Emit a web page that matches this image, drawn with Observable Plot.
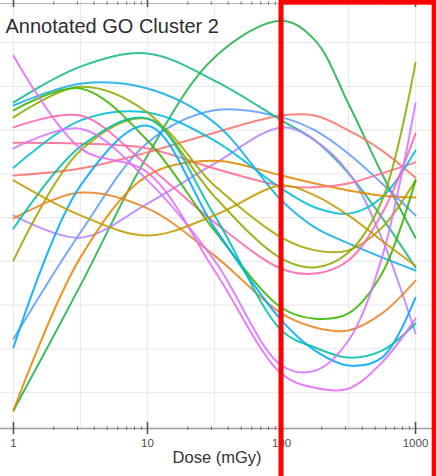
<!DOCTYPE html>
<html><head><meta charset="utf-8">
<script src="https://cdn.jsdelivr.net/npm/d3@7"></script>
<script src="https://cdn.jsdelivr.net/npm/@observablehq/plot@0.6"></script>
<style>html,body{margin:0;padding:0;background:#fff}#chart svg{display:block}</style>
</head><body><div id="chart"></div>
<script>
// Dose sampling points (mGy) where each fitted curve was read
const doses = [1, 3.16, 10, 31.6, 100, 178, 316, 562, 1000];

// Relative expression of each term (arbitrary units)
const term01 = [-4.1, 24.5, 54.2, 76.6, 85.0, 80.5, 66.0, 50.0, 35.4];
const term02 = [49.6, 51.2, 54.9, 59.4, 63.3, 63.3, 59.9, 55.3, 49.1];
const term03 = [12.3, 36.6, 57.1, 64.5, 62.9, 59.9, 54.6, 47.8, 40.5];
const term04 = [66.3, 74.5, 77.5, 71.3, 62.2, 57.6, 50.1, 40.0, 28.6];
const term05 = [40.5, 35.4, 43.2, 52.3, 60.6, 57.6, 50.3, 35.2, 13.5];
const term06 = [-4.1, 30.9, 49.6, 53.0, 49.6, 47.8, 46.2, 45.0, 44.6];
const term07 = [57.1, 56.9, 55.8, 51.2, 47.3, 46.9, 47.8, 50.1, 52.6];
const term08 = [51.4, 62.2, 64.0, 57.6, 46.6, 42.3, 40.9, 44.6, 55.3];
const term09 = [65.6, 70.6, 69.5, 61.7, 43.9, 37.7, 34.1, 30.9, 27.9];
const term10 = [30.2, 55.3, 62.6, 47.3, 35.4, 32.5, 32.5, 37.7, 48.5];
const term11 = [62.9, 69.9, 64.0, 44.8, 30.6, 28.6, 32.0, 43.9, 75.4];
const term12 = [60.6, 63.3, 51.9, 38.9, 28.3, 27.2, 30.2, 40.9, 59.2];
const term13 = [64.5, 69.5, 57.6, 37.0, 19.4, 16.9, 18.1, 27.2, 48.5];
const term14 = [39.8, 45.7, 42.1, 31.3, 18.1, 14.9, 14.2, 18.1, 25.6];
const term15 = [10.3, 47.3, 61.0, 37.7, 16.5, 9.6, 6.2, 8.0, 21.7];
const term16 = [37.5, 56.2, 62.6, 40.5, 14.2, 10.3, 8.0, 9.6, 15.8];
const term17 = [55.8, 60.3, 48.5, 30.2, 6.2, 5.0, 11.9, 30.9, 66.1];
const term18 = [77.0, 55.8, 50.3, 27.9, 4.3, 1.1, 0.9, 6.9, 16.9];
const term19 = [48.5, 40.5, 35.9, 40.5, 47.3, 45.0, 40.5, 34.7, 29.0];

const seriesNames = ["T01","T02","T03","T04","T05","T06","T07","T08","T09","T10",
                     "T11","T12","T13","T14","T15","T16","T17","T18","T19"];
const seriesValues = [term01,term02,term03,term04,term05,term06,term07,term08,term09,term10,
                      term11,term12,term13,term14,term15,term16,term17,term18,term19];
const seriesColors = ["#22B24C","#F8766D","#619CFF","#14B98A","#B983FF","#E58700","#FF6C91",
                      "#00BCD8","#16AEE8","#A3A500","#8EAB00","#FF64B0","#39B600","#E88526",
                      "#00A9FF","#00C1A9","#D575FE","#E76BF3","#C49A00"];

// Axis / grid / annotation values
const majorTicks = [1, 10, 100, 1000];
const minorTicks = [2,3,4,5,6,7,8,9,20,30,40,50,60,70,80,90,200,300,400,500,600,700,800,900];
const xGrid = [1, 3.162, 10, 31.62, 100, 316.2, 1000];
const yGrid = [0, 10, 20, 30, 40, 50, 60, 70, 80];
const xDomain = [0.8, 1362];
const yDomain = [-8.2, 89.6];
const topAxis = 88.9;
const highlight = {from: 100, to: 1390, top: 89.1, bottom: -30};
const titleText = "Annotated GO Cluster 2";
const xLabel = "Dose (mGy)";

const rows = [];
seriesNames.forEach((name, i) => {
  doses.forEach((d, j) => rows.push({series: name, dose: d, value: seriesValues[i][j]}));
});

const chart = Plot.plot({
  width: 436, height: 476,
  marginLeft: 0, marginRight: 3, marginTop: 0, marginBottom: 48,
  style: {background: "#fff", fontFamily: "'Liberation Sans', Arial, sans-serif", overflow: "visible"},
  x: {type: "log", domain: xDomain, axis: null},
  y: {domain: yDomain, axis: null},
  color: {domain: seriesNames, range: seriesColors},
  marks: [
    Plot.ruleY(yGrid, {stroke: "#ebebeb", strokeWidth: 1.2}),
    Plot.ruleX(xGrid, {stroke: "#ebebeb", strokeWidth: 1.2}),
    Plot.line(rows, {x: "dose", y: "value", z: "series", stroke: "series",
                     curve: "catmull-rom", strokeWidth: 2, strokeOpacity: 0.88, clip: true}),
    // bottom axis line and ticks
    Plot.ruleY([yDomain[0]], {stroke: "#9a9a9a", strokeWidth: 1.5}),
    Plot.ruleX(majorTicks, {x: d => d, y1: yDomain[0] - 1.4, y2: yDomain[0] + 1.4, stroke: "#555", strokeWidth: 1.6}),
    Plot.ruleX(minorTicks, {x: d => d, y1: yDomain[0] - 0.45, y2: yDomain[0] + 0.45, stroke: "#777", strokeWidth: 1}),
    // top axis (panel above) line and ticks
    Plot.ruleY([topAxis], {stroke: "#b0b0b0", strokeWidth: 1}),
    Plot.ruleX(majorTicks, {x: d => d, y1: topAxis - 0.9, y2: yDomain[1] + 0.5, stroke: "#555", strokeWidth: 1.6}),
    Plot.ruleX(minorTicks, {x: d => d, y1: topAxis - 0.4, y2: topAxis + 0.4, stroke: "#777", strokeWidth: 1}),
    // right panel border
    Plot.ruleX([xDomain[1]], {stroke: "#b5b5b5", strokeWidth: 1.2}),
    // tick labels and axis title
    Plot.text(majorTicks, {x: d => d, y: yDomain[0], dy: 15, text: d => String(d),
                           fontSize: 11.5, fill: "#4d4d4d"}),
    Plot.text([xLabel], {frameAnchor: "bottom", dy: 34, text: d => d, fontSize: 16.5, fill: "#333"}),
    // title
    Plot.text([titleText], {frameAnchor: "top-left", dx: 5, dy: 18, text: d => d,
                            fontSize: 20, fill: "#2e2e2e", textAnchor: "start", lineAnchor: "top"}),
    // red highlight box
    Plot.rect([highlight], {x1: "from", x2: "to", y1: "bottom", y2: "top",
                            fill: "none", stroke: "#FF0000", strokeWidth: 5})
  ]
});
document.getElementById("chart").append(chart);
</script>
</body></html>
